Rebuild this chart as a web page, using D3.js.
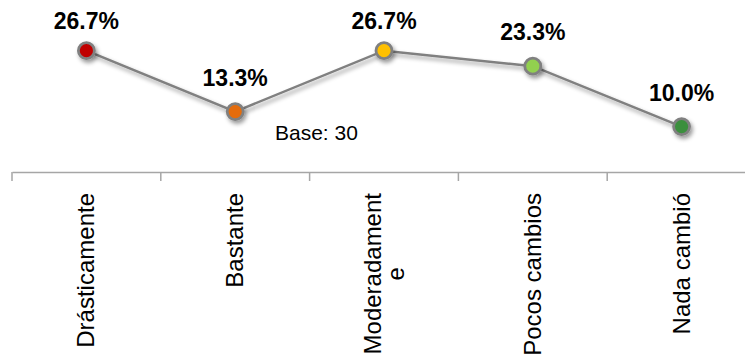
<!DOCTYPE html>
<html>
<head>
<meta charset="utf-8">
<script src="https://cdn.jsdelivr.net/npm/d3@7"></script>
<style>
  html, body { margin: 0; padding: 0; background: #fff; }
  svg { display: block; font-family: "Liberation Sans", Arial, sans-serif; }
</style>
</head>
<body>
<svg id="chart" width="745" height="357"></svg>
<script>
const categories = ["Drásticamente", "Bastante", "Moderadamente", "Pocos cambios", "Nada cambió"];
const categoryLines = [["Drásticamente"], ["Bastante"], ["Moderadament", "e"], ["Pocos cambios"], ["Nada cambió"]];
const values = [26.7, 13.3, 26.7, 23.3, 10.0];
const valueLabels = ["26.7%", "13.3%", "26.7%", "23.3%", "10.0%"];
const markerColors = ["#C00000", "#E46C0A", "#FFC000", "#92D050", "#3A8F3E"];
const baseNote = "Base: 30";

const svg = d3.select("#chart");

const x = d3.scaleBand().domain(categories).range([12, 756]);
const y = d3.scaleLinear().domain([0, 35]).range([172, 13]);

const defs = svg.append("defs");
const f = defs.append("filter").attr("id", "shadow")
  .attr("x", "-50%").attr("y", "-50%").attr("width", "200%").attr("height", "200%");
f.append("feDropShadow").attr("dx", 2).attr("dy", 3).attr("stdDeviation", 2.2)
  .attr("flood-color", "#000").attr("flood-opacity", 0.4);

// axis
const axis = d3.axisBottom(x).tickSize(0).tickFormat("");
const gAxis = svg.append("g").attr("transform", "translate(0,172)").call(axis);
gAxis.select(".domain").attr("stroke", "#A6A6A6").attr("stroke-width", 1.5);
gAxis.selectAll(".tick").remove();
const tickPos = categories.map(c => x(c));
gAxis.selectAll("line.tk").data(tickPos).enter().append("line")
  .attr("class", "tk")
  .attr("x1", d => d).attr("x2", d => d)
  .attr("y1", 0).attr("y2", 9)
  .attr("stroke", "#A6A6A6").attr("stroke-width", 1.5);

// category labels (rotated, top-anchored block, centered lines)
const labelTop = 193;
const lineGap = 23;
categoryLines.forEach((lines, i) => {
  const cx = x(categories[i]) + x.bandwidth() / 2;
  const g = svg.append("g");
  const texts = lines.map(t => g.append("text").text(t)
      .attr("font-size", 24).attr("fill", "#000").attr("text-anchor", "middle"));
  const maxLen = d3.max(texts, t => t.node().getComputedTextLength());
  const cy = labelTop + maxLen / 2;
  const n = lines.length;
  texts.forEach((t, j) => {
    const off = (j - (n - 1) / 2) * lineGap;
    const tx = cx + off + 8;
    t.attr("transform", `translate(${tx},${cy}) rotate(-90)`);
  });
});

// line
const pts = categories.map((c, i) => [x(c) + x.bandwidth() / 2, y(values[i])]);
svg.append("path")
  .attr("d", d3.line()(pts))
  .attr("fill", "none").attr("stroke", "#808080").attr("stroke-width", 2.5)
  .attr("filter", "url(#shadow)");

svg.selectAll("circle.pt").data(pts).enter().append("circle")
  .attr("class", "pt")
  .attr("cx", d => d[0]).attr("cy", d => d[1]).attr("r", 8)
  .attr("fill", (d, i) => markerColors[i])
  .attr("stroke", "#808080").attr("stroke-width", 2.8)
  .attr("filter", "url(#shadow)");

// value labels
svg.selectAll("text.val").data(pts).enter().append("text")
  .attr("class", "val")
  .attr("x", d => d[0])
  .attr("y", d => Math.max(d[1] - 26, 29))
  .attr("text-anchor", "middle")
  .attr("font-size", 23).attr("font-weight", "bold").attr("fill", "#000")
  .text((d, i) => valueLabels[i]);

svg.append("text").attr("x", 275).attr("y", 140)
  .attr("font-size", 21).attr("fill", "#000").text(baseNote);
</script>
</body>
</html>
